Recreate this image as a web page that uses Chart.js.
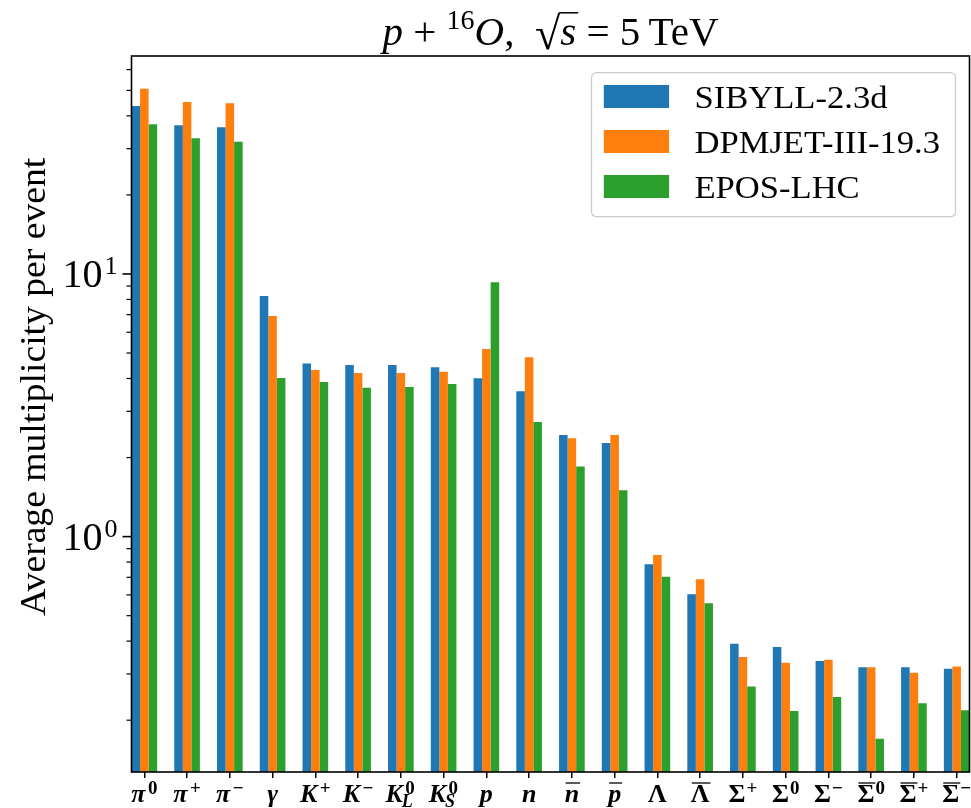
<!DOCTYPE html>
<html>
<head>
<meta charset="utf-8">
<script src="https://cdn.jsdelivr.net/npm/chart.js@4.4.1/dist/chart.umd.min.js"></script>
<style>
  html, body { margin: 0; padding: 0; background: #fff; overflow: hidden; }
  canvas { display: block; }
</style>
</head>
<body>
<canvas id="multChart" width="971" height="808"></canvas>
<script>
// particle tick labels: base symbol, superscript, subscript, overline
const particleBase = ['π', 'π', 'π', 'γ', 'K', 'K', 'K', 'K', 'p', 'n', 'n', 'p', 'Λ', 'Λ', 'Σ', 'Σ', 'Σ', 'Σ', 'Σ', 'Σ'];
const particleSup  = ['0', '+', '−', '', '+', '−', '0', '0', '', '', '', '', '', '', '+', '0', '−', '0', '+', '−'];
const particleSub  = ['', '', '', '', '', '', 'L', 'S', '', '', '', '', '', '', '', '', '', '', '', ''];
const particleBar  = [0, 0, 0, 0, 0, 0, 0, 0, 0, 0, 1, 1, 0, 1, 0, 0, 0, 1, 1, 1];

// average multiplicity per event
const sibyll = [43.6, 36.8, 36.2, 8.25, 4.56, 4.50, 4.50, 4.41, 4.01, 3.58, 2.44, 2.27, 0.785, 0.604, 0.391, 0.380, 0.336, 0.318, 0.318, 0.314];
const dpmjet = [50.7, 45.2, 44.7, 6.92, 4.31, 4.20, 4.20, 4.24, 5.18, 4.82, 2.37, 2.44, 0.852, 0.688, 0.348, 0.331, 0.340, 0.318, 0.303, 0.320];
const epos   = [37.2, 32.9, 31.9, 4.02, 3.88, 3.69, 3.71, 3.81, 9.30, 2.73, 1.85, 1.50, 0.704, 0.558, 0.269, 0.217, 0.245, 0.170, 0.232, 0.218];

const seriesNames = ['SIBYLL-2.3d', 'DPMJET-III-19.3', 'EPOS-LHC'];
const seriesColors = ['#1f77b4', '#ff7f0e', '#2ca02c'];

const yMajorTicks = [1, 10];
const yMajorExp = ['0', '1'];
const yMinorTicks = [0.2, 0.3, 0.4, 0.5, 0.6, 0.7, 0.8, 0.9, 2, 3, 4, 5, 6, 7, 8, 9, 20, 30, 40, 50, 60];
const yMin = 0.127;
const yMax = 67.6;

const SERIF = '"Liberation Serif", serif';
const uprightGreek = ['Λ', 'Σ'];

function toPoints(values) {
    return values.map((v, i) => ({ x: i, y: v }));
}

function line(ctx, x1, y1, x2, y2) {
    ctx.beginPath();
    ctx.moveTo(x1, y1);
    ctx.lineTo(x2, y2);
    ctx.stroke();
}

// title: p + ^16 O, sqrt(s) = 5 TeV
function drawTitle(ctx, area) {
    const size = 41;
    const it = `italic ${size}px ${SERIF}`;
    const up = `${size}px ${SERIF}`;
    const sm = `28px ${SERIF}`;
    const parts = [
        { t: 'p', f: it },
        { t: ' + ', f: up },
        { t: '16', f: sm, dy: -16 },
        { t: 'O', f: it },
        { t: ',  ', f: up },
        { t: '√', f: `46px ${SERIF}`, dy: 4, rad: true },
        { t: 's', f: it, bar: true },
        { t: ' = 5\u2009TeV', f: up }
    ];
    let total = 0;
    parts.forEach(p => { ctx.font = p.f; p.w = ctx.measureText(p.t).width; total += p.w; });
    const baseY = 45;
    let x = (area.left + area.right) / 2 - total / 2;
    ctx.fillStyle = '#000';
    ctx.strokeStyle = '#000';
    ctx.textAlign = 'left';
    ctx.textBaseline = 'alphabetic';
    let barTop = 0, barStart = 0;
    parts.forEach(p => {
        ctx.font = p.f;
        ctx.fillText(p.t, x, baseY + (p.dy || 0));
        if (p.rad) {
            barTop = baseY + (p.dy || 0) - ctx.measureText(p.t).actualBoundingBoxAscent + 0.8;
            barStart = x + p.w - 1;
        }
        if (p.bar) {
            ctx.lineWidth = 1.5;
            line(ctx, barStart, barTop, x + p.w + 2, barTop);
        }
        x += p.w;
    });
}

function drawParticleLabel(ctx, i, cx) {
    const base = particleBase[i];
    const sup = particleSup[i];
    const sub = particleSub[i];
    const baseY = 802;
    const upright = uprightGreek.includes(base);
    const baseFont = (upright ? 'bold ' : 'italic bold ') + `26px ${SERIF}`;
    const supFont = `bold 19px ${SERIF}`;
    const subFont = `italic bold 18px ${SERIF}`;
    ctx.font = baseFont;
    const bw = ctx.measureText(base).width;
    ctx.font = supFont;
    const supW = sup ? ctx.measureText(sup).width : 0;
    ctx.font = subFont;
    const subW = sub ? ctx.measureText(sub).width : 0;
    const sw = Math.max(supW, subW);
    const gap = upright ? 1 : 2.5;
    const total = bw + (sw ? sw + gap : 0);
    const x = cx - total / 2;
    ctx.fillStyle = '#000';
    ctx.textAlign = 'left';
    ctx.font = baseFont;
    ctx.fillText(base, x, baseY);
    if (particleBar[i]) {
        ctx.strokeStyle = '#000';
        ctx.lineWidth = 1.3;
        line(ctx, x + 1, 783, x + bw + 1, 783);
    }
    if (sup) {
        ctx.font = supFont;
        ctx.fillText(sup, x + bw + gap, baseY - 8);
    }
    if (sub) {
        ctx.font = subFont;
        ctx.fillText(sub, x + bw - 1, baseY + 5);
    }
}

const axesDecor = {
    id: 'axesDecor',
    afterDatasetsDraw(chart) {
        const { ctx, chartArea: area } = chart;
        ctx.save();
        ctx.strokeStyle = '#000';
        ctx.lineWidth = 1.6;
        ctx.strokeRect(area.left, area.top, area.right - area.left, area.bottom - area.top);
        ctx.restore();
    },
    afterDraw(chart) {
        const { ctx, chartArea: area } = chart;
        const yScale = chart.scales.y;
        const xScale = chart.scales.x;
        ctx.save();
        ctx.strokeStyle = '#000';

        // y ticks
        ctx.lineWidth = 1.2;
        yMinorTicks.forEach(v => {
            const py = yScale.getPixelForValue(v);
            line(ctx, area.left - 5, py, area.left, py);
        });
        ctx.lineWidth = 1.6;
        ctx.fillStyle = '#000';
        ctx.textBaseline = 'alphabetic';
        yMajorTicks.forEach((v, k) => {
            const py = yScale.getPixelForValue(v);
            line(ctx, area.left - 9, py, area.left, py);
            ctx.font = `26px ${SERIF}`;
            ctx.textAlign = 'right';
            const supRight = area.left - 14;
            const supW = ctx.measureText(yMajorExp[k]).width;
            ctx.fillText(yMajorExp[k], supRight, py);
            ctx.font = `40px ${SERIF}`;
            ctx.fillText('10', supRight - supW - 2, py + 13.5);
        });

        // y label (stretched slightly to the wider TeX face)
        ctx.save();
        ctx.translate(44.5, area.top + 0.462 * (area.bottom - area.top));
        ctx.rotate(-Math.PI / 2);
        ctx.scale(1.075, 1);
        ctx.font = `35px ${SERIF}`;
        ctx.textAlign = 'center';
        ctx.fillText('Average multiplicity per event', 0, 0);
        ctx.restore();

        // x tick labels
        particleBase.forEach((_, i) => drawParticleLabel(ctx, i, xScale.getPixelForValue(i)));

        drawTitle(ctx, area);

        // legend
        const bx = area.right - 378, by = area.top + 16.7, bw = 364, bh = 144;
        ctx.fillStyle = 'rgba(255,255,255,0.8)';
        ctx.strokeStyle = '#cccccc';
        ctx.lineWidth = 1.3;
        ctx.beginPath();
        ctx.roundRect(bx, by, bw, bh, 5);
        ctx.fill();
        ctx.stroke();
        ctx.textAlign = 'left';
        chart.data.datasets.forEach((ds, k) => {
            const top = by + 12.3 + k * 45;
            ctx.fillStyle = ds.backgroundColor;
            ctx.fillRect(bx + 12.3, top, 65.3, 23);
            ctx.fillStyle = '#000';
            ctx.save();
            ctx.translate(bx + 103, top + 23);
            ctx.scale(1.08, 1);
            ctx.font = `32px ${SERIF}`;
            ctx.fillText(ds.label, 0, 0);
            ctx.restore();
        });
        ctx.restore();
    }
};

new Chart(document.getElementById('multChart'), {
    type: 'bar',
    data: {
        datasets: [
            { label: seriesNames[0], data: toPoints(sibyll), backgroundColor: seriesColors[0] },
            { label: seriesNames[1], data: toPoints(dpmjet), backgroundColor: seriesColors[1] },
            { label: seriesNames[2], data: toPoints(epos), backgroundColor: seriesColors[2] }
        ]
    },
    options: {
        responsive: false,
        animation: false,
        layout: { padding: { left: 131.5, right: 1.5, top: 56, bottom: 30 } },
        datasets: {
            bar: { categoryPercentage: 0.6, barPercentage: 1.0, borderWidth: 0 }
        },
        plugins: {
            legend: { display: false },
            tooltip: { enabled: false },
            title: { display: false }
        },
        scales: {
            x: {
                type: 'linear',
                min: -0.3,
                max: 19.3,
                offset: false,
                afterBuildTicks: scale => {
                    scale.ticks = particleBase.map((_, i) => ({ value: i }));
                },
                ticks: { display: false },
                grid: {
                    offset: false,
                    drawOnChartArea: false,
                    drawTicks: true,
                    tickLength: 6,
                    color: '#000',
                    lineWidth: 1.5
                },
                border: { display: false }
            },
            y: {
                type: 'logarithmic',
                display: false,
                min: yMin,
                max: yMax
            }
        }
    },
    plugins: [axesDecor]
});
</script>
</body>
</html>
